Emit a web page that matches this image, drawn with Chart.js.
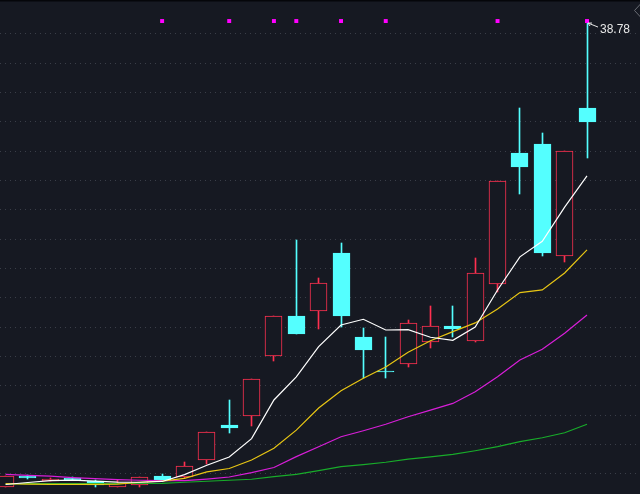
<!DOCTYPE html>
<html><head><meta charset="utf-8">
<script src="https://cdn.jsdelivr.net/npm/chart.js@4/dist/chart.umd.min.js"></script>
<style>html,body{margin:0;padding:0;background:#161922;overflow:hidden}canvas{display:block}</style>
</head><body><canvas id="c" width="640" height="494"></canvas>
<script>
// ---- data (daily candles, oldest first) ----
const opens  = [15.80,16.35,16.08,16.25,16.10,15.81,15.88,16.33,16.27,17.11,18.84,19.28,22.28,24.24,24.47,27.36,23.20,21.50,21.88,22.94,23.73,22.99,25.81,32.30,32.75,27.19,34.53];
const highs  = [16.33,16.36,16.23,16.26,16.11,16.13,16.28,16.43,17.02,18.49,20.07,21.11,24.24,28.00,26.12,27.85,23.65,23.20,24.04,24.74,24.74,27.11,30.90,34.53,33.29,32.40,38.78];
const lows   = [15.79,16.17,16.07,16.12,15.80,15.80,15.80,16.09,16.24,16.94,18.47,18.82,22.03,23.36,23.61,23.71,21.16,21.19,21.74,22.67,23.19,22.98,25.44,30.29,27.22,26.93,32.07];
const closes = [16.32,16.25,16.18,16.13,15.88,15.99,16.27,16.10,16.81,18.49,18.72,21.11,24.24,23.37,25.87,24.24,22.58,21.45,23.88,23.73,23.58,26.37,30.90,31.62,27.37,32.40,33.84];
const ma5  = [15.91,16.01,16.10,16.13,16.08,16.03,16.02,16.06,16.40,16.86,17.27,18.18,20.09,21.23,22.73,23.80,24.08,23.55,23.57,23.19,23.04,23.70,25.53,27.17,27.94,29.63,31.17];
const ma10 = [15.95,15.93,15.92,15.92,15.92,15.93,16.02,16.08,16.21,16.53,16.70,17.12,17.70,18.60,19.69,20.55,21.16,21.72,22.45,23.02,23.47,23.90,24.59,25.40,25.53,26.37,27.51];
const ma20 = [16.41,16.36,16.32,16.25,16.20,16.15,16.12,16.10,16.10,16.18,16.28,16.50,16.75,17.29,17.78,18.27,18.57,18.89,19.26,19.59,19.92,20.50,21.24,22.07,22.60,23.39,24.29];
const ma60 = [15.94,15.95,15.95,15.96,15.96,15.96,15.96,15.97,16.02,16.07,16.12,16.17,16.30,16.41,16.60,16.79,16.89,17.01,17.16,17.28,17.40,17.58,17.78,18.03,18.22,18.47,18.89];
const signalDays = [7,10,12,13,15,17,22,26];
const signalLevel = 38.83;

// ---- scale / style constants ----
const yMin = 15.44, yMax = 39.87;
const xMin = -0.25, xMax = 28.37;
const gridTop = 38.19, gridStep = 1.4504, gridCount = 16;
const BG = '#161922', UP = '#ff3050', DOWN = '#54ffff';

const isUp = closes.map((c,i)=> c >= opens[i]);
const pts = arr => arr.map((v,i)=>({x:i,y:v}));

const bgPlugin = {
  id:'bg',
  beforeDraw(chart){
    const ctx = chart.ctx;
    ctx.save();
    ctx.fillStyle = BG; ctx.fillRect(0,0,chart.width,chart.height);
    ctx.fillStyle = '#05060a'; ctx.fillRect(0,0,chart.width,1.5);
    ctx.strokeStyle = '#6a6d75'; ctx.lineWidth = 1;
    ctx.beginPath(); ctx.moveTo(641,3.5); ctx.lineTo(634.5,10.5); ctx.lineTo(641,17.5); ctx.stroke();
    ctx.restore();
  },
  beforeDatasetsDraw(chart){
    // snap candle rectangles to the pixel grid for crisp edges
    chart.data.datasets.forEach((ds,di)=>{
      const meta = chart.getDatasetMeta(di);
      if (meta.type !== 'bar') return;
      meta.data.forEach(el=>{
        el.x = Math.floor(el.x) + 0.5;
        el.y = Math.round(el.y);
        el.base = Math.round(el.base);
      });
    });
  },
  afterDatasetsDraw(chart){
    const ctx = chart.ctx, xs = chart.scales.x, ys = chart.scales.y;
    let hi = 0; highs.forEach((h,i)=>{ if(h>highs[hi]) hi=i; });
    const px = xs.getPixelForValue(hi), py = ys.getPixelForValue(highs[hi]);
    ctx.save();
    ctx.strokeStyle = '#e6e6e6'; ctx.lineWidth = 1;
    ctx.beginPath();
    ctx.moveTo(px+1, py+1); ctx.lineTo(px+11, py+5);
    ctx.moveTo(px+1, py+1); ctx.lineTo(px+5, py+1);
    ctx.moveTo(px+1, py+1); ctx.lineTo(px+3, py+4);
    ctx.stroke();
    ctx.fillStyle = '#e8e8e8';
    ctx.font = '12px "Liberation Sans", Arial, sans-serif';
    ctx.textBaseline = 'middle'; ctx.textAlign = 'left';
    ctx.fillText(highs[hi].toFixed(2), px+13, py+8);
    ctx.restore();
  }
};

new Chart(document.getElementById('c'), {
  type:'bar',
  data:{
    datasets:[
      {type:'line', data:pts(ma5), borderColor:'#ffffff', borderWidth:1.2, pointRadius:0, tension:0, order:0},
      {type:'line', data:pts(ma10), borderColor:'#e8c614', borderWidth:1.2, pointRadius:0, tension:0, order:0},
      {type:'line', data:pts(ma20), borderColor:'#d81ed8', borderWidth:1.2, pointRadius:0, tension:0, order:0},
      {type:'line', data:pts(ma60), borderColor:'#18ac2a', borderWidth:1.2, pointRadius:0, tension:0, order:0},
      {type:'line', data:signalDays.map(d=>({x:d,y:signalLevel})), showLine:false, pointStyle:'rect',
        pointRadius:2.8, pointBackgroundColor:'#ff00ff', pointBorderWidth:0, pointBorderColor:'#ff00ff', order:0},
      {type:'bar', data:opens.map((o,i)=>({x:i,y:[opens[i],closes[i]]})),
        backgroundColor:isUp.map(u=>u?BG:DOWN), borderColor:isUp.map(u=>u?UP:DOWN),
        borderWidth:1, borderSkipped:false, barThickness:17, minBarLength:1, grouped:false, order:1},
      {type:'bar', data:lows.map((l,i)=>({x:i,y:[lows[i],highs[i]]})),
        backgroundColor:isUp.map(u=>u?UP:DOWN), borderWidth:0, barThickness:1, grouped:false, order:2}
    ]
  },
  options:{
    responsive:false, animation:false, devicePixelRatio:1,
    layout:{padding:0, autoPadding:false},
    plugins:{legend:{display:false}, tooltip:{enabled:false}, title:{display:false}},
    scales:{
      x:{type:'linear', min:xMin, max:xMax, display:false, offset:false, grid:{offset:false}},
      y:{type:'linear', min:yMin, max:yMax, position:'left',
        afterBuildTicks:s=>{ s.ticks = Array.from({length:gridCount},(_,k)=>({value:gridTop-k*gridStep})); },
        afterFit:s=>{ s.width = 0; },
        ticks:{display:false},
        grid:{color:'#3a3e48', lineWidth:1, drawTicks:false},
        border:{display:false, dash:[1,4]}
      }
    }
  },
  plugins:[bgPlugin]
});
</script>
</body></html>
